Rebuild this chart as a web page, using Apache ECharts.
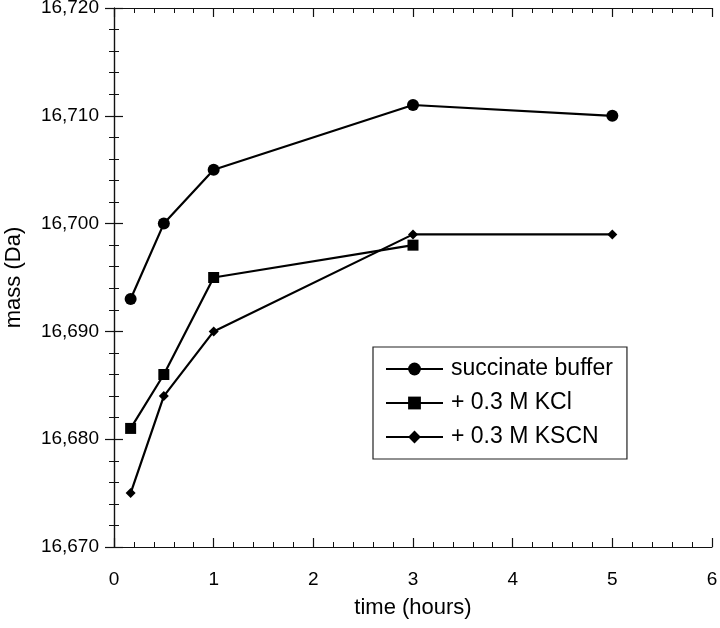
<!DOCTYPE html>
<html>
<head>
<meta charset="utf-8">
<script src="https://cdn.jsdelivr.net/npm/echarts@6/dist/echarts.min.js"></script>
<style>html,body{margin:0;padding:0;background:#fff}#c{width:720px;height:628px}</style>
</head>
<body>
<div id="c"></div>
<script>
var seriesNames = ['succinate buffer', '+ 0.3 M KCl', '+ 0.3 M KSCN'];
var succinateTime = [0.167, 0.5, 1, 3, 5];
var succinateMass = [16693, 16700, 16705, 16711, 16710];
var kclTime = [0.167, 0.5, 1, 3];
var kclMass = [16681, 16686, 16695, 16698];
var kscnTime = [0.167, 0.5, 1, 3, 5];
var kscnMass = [16675, 16684, 16690, 16699, 16699];
var xTicks = [0, 1, 2, 3, 4, 5, 6];
var yTicks = [16670, 16680, 16690, 16700, 16710, 16720];

function pairs(xs, ys) { return xs.map(function (x, i) { return [x, ys[i]]; }); }

var FONT = '"Liberation Sans", Arial, sans-serif';
var axisLine = { show: true, lineStyle: { color: '#111', width: 1.2 } };
var tick = { show: true, inside: true, length: 9, lineStyle: { color: '#111', width: 1.2 } };
var minor = { show: true, splitNumber: 5, length: 5, lineStyle: { color: '#111', width: 1 } };
var xMin = xTicks[0], xMax = xTicks[xTicks.length - 1];
var yMin = yTicks[0], yMax = yTicks[yTicks.length - 1];

function mkSeries(name, xs, ys, symbol, size) {
  return {
    name: name, type: 'line', data: pairs(xs, ys),
    symbol: symbol, symbolSize: size, showSymbol: true,
    lineStyle: { color: '#000', width: 2.2 },
    itemStyle: { color: '#000' },
    emphasis: { disabled: true },
    animation: false
  };
}

var chart = echarts.init(document.getElementById('c'), null, { renderer: 'canvas' });
chart.setOption({
  animation: false,
  backgroundColor: '#fff',
  grid: { left: 114, right: 8, top: 8, bottom: 81, containLabel: false, outerBoundsMode: 'none' },
  xAxis: [
    {
      type: 'value', min: xMin, max: xMax, interval: 1, position: 'bottom',
      name: 'time (hours)', nameLocation: 'middle', nameGap: 50,
      nameTextStyle: { fontFamily: FONT, fontSize: 22, color: '#000' },
      axisLine: axisLine, axisTick: tick, minorTick: minor, splitLine: { show: false },
      axisLabel: { fontFamily: FONT, fontSize: 19, color: '#000', margin: 23 }
    },
    {
      type: 'value', min: xMin, max: xMax, interval: 1, position: 'top',
      axisLine: axisLine, axisTick: tick, minorTick: minor, splitLine: { show: false },
      axisLabel: { show: false }
    }
  ],
  yAxis: [
    {
      type: 'value', min: yMin, max: yMax, interval: 10, position: 'left',
      name: 'mass (Da)', nameLocation: 'middle', nameGap: 89,
      nameTextStyle: { fontFamily: FONT, fontSize: 22, color: '#000' },
      axisLine: axisLine, axisTick: tick, minorTick: minor, splitLine: { show: false },
      axisLabel: { fontFamily: FONT, fontSize: 19, color: '#000', margin: 15 }
    },
    {
      type: 'value', min: yMin, max: yMax, interval: 10, position: 'right',
      axisLine: axisLine, axisTick: tick, minorTick: minor, splitLine: { show: false },
      axisLabel: { show: false }
    }
  ],
  legend: {
    orient: 'vertical', left: 373, top: 347,
    padding: [10, 14, 10, 12],
    itemWidth: 57, itemHeight: 16, itemGap: 10,
    borderColor: '#222', borderWidth: 1.2, borderRadius: 0,
    backgroundColor: '#fff',
    data: seriesNames,
    textStyle: { fontFamily: FONT, fontSize: 23, color: '#000', lineHeight: 24, padding: [0, 0, 0, 3] },
    selectedMode: false
  },
  series: [
    mkSeries(seriesNames[0], succinateTime, succinateMass, 'circle', 12),
    mkSeries(seriesNames[1], kclTime, kclMass, 'rect', 11),
    mkSeries(seriesNames[2], kscnTime, kscnMass, 'diamond', 10)
  ]
});
</script>
</body>
</html>
